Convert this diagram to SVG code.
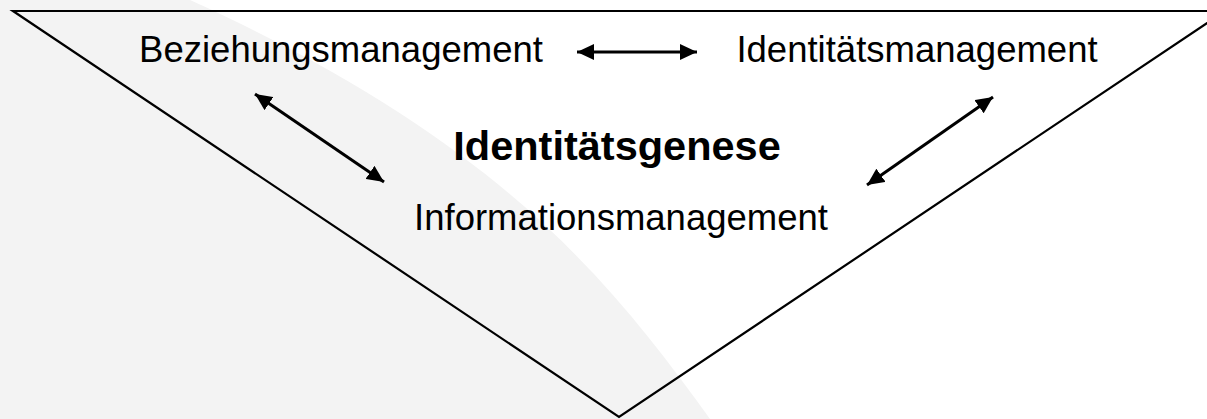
<svg xmlns="http://www.w3.org/2000/svg" width="1207" height="419" viewBox="0 0 1207 419">
<style>
.lbl{font-family:"Liberation Sans",Arial,sans-serif;font-size:36.5px;fill:#000;text-anchor:middle}
.ttl{font-family:"Liberation Sans",Arial,sans-serif;font-size:41.5px;font-weight:bold;fill:#000;text-anchor:middle}
.conn{stroke:#000;stroke-width:3;fill:none;marker-start:url(#ah);marker-end:url(#ah)}
</style>
<defs>
<marker id="ah" markerUnits="userSpaceOnUse" markerWidth="18" markerHeight="16" refX="17" refY="8" orient="auto-start-reverse">
<path d="M0,0 L17,8 L0,16 Z" fill="#000"/>
</marker>
</defs>
<rect width="1207" height="419" fill="#fff"/>
<path id="bg" d="M0,0 L190,0 C498,140 609,279 710,419 L0,419 Z" fill="#f3f3f3"/>
<g id="funnel">
<polygon points="13,11 1225,11 619,417" fill="none" stroke="#000" stroke-width="2.2"/>
</g>
<g id="beziehung"><text class="lbl" x="341" y="62">Beziehungsmanagement</text></g>
<g id="identitaetsmgmt"><text class="lbl" x="917" y="62">Identitätsmanagement</text></g>
<g id="genese"><text class="ttl" x="617" y="160">Identitätsgenese</text></g>
<g id="information"><text class="lbl" x="621" y="230">Informationsmanagement</text></g>
<g id="connectors">
<line class="conn" x1="577" y1="52" x2="697" y2="52"/>
<line class="conn" x1="255" y1="94" x2="384" y2="182"/>
<line class="conn" x1="993" y1="97" x2="867" y2="185"/>
</g>
</svg>
